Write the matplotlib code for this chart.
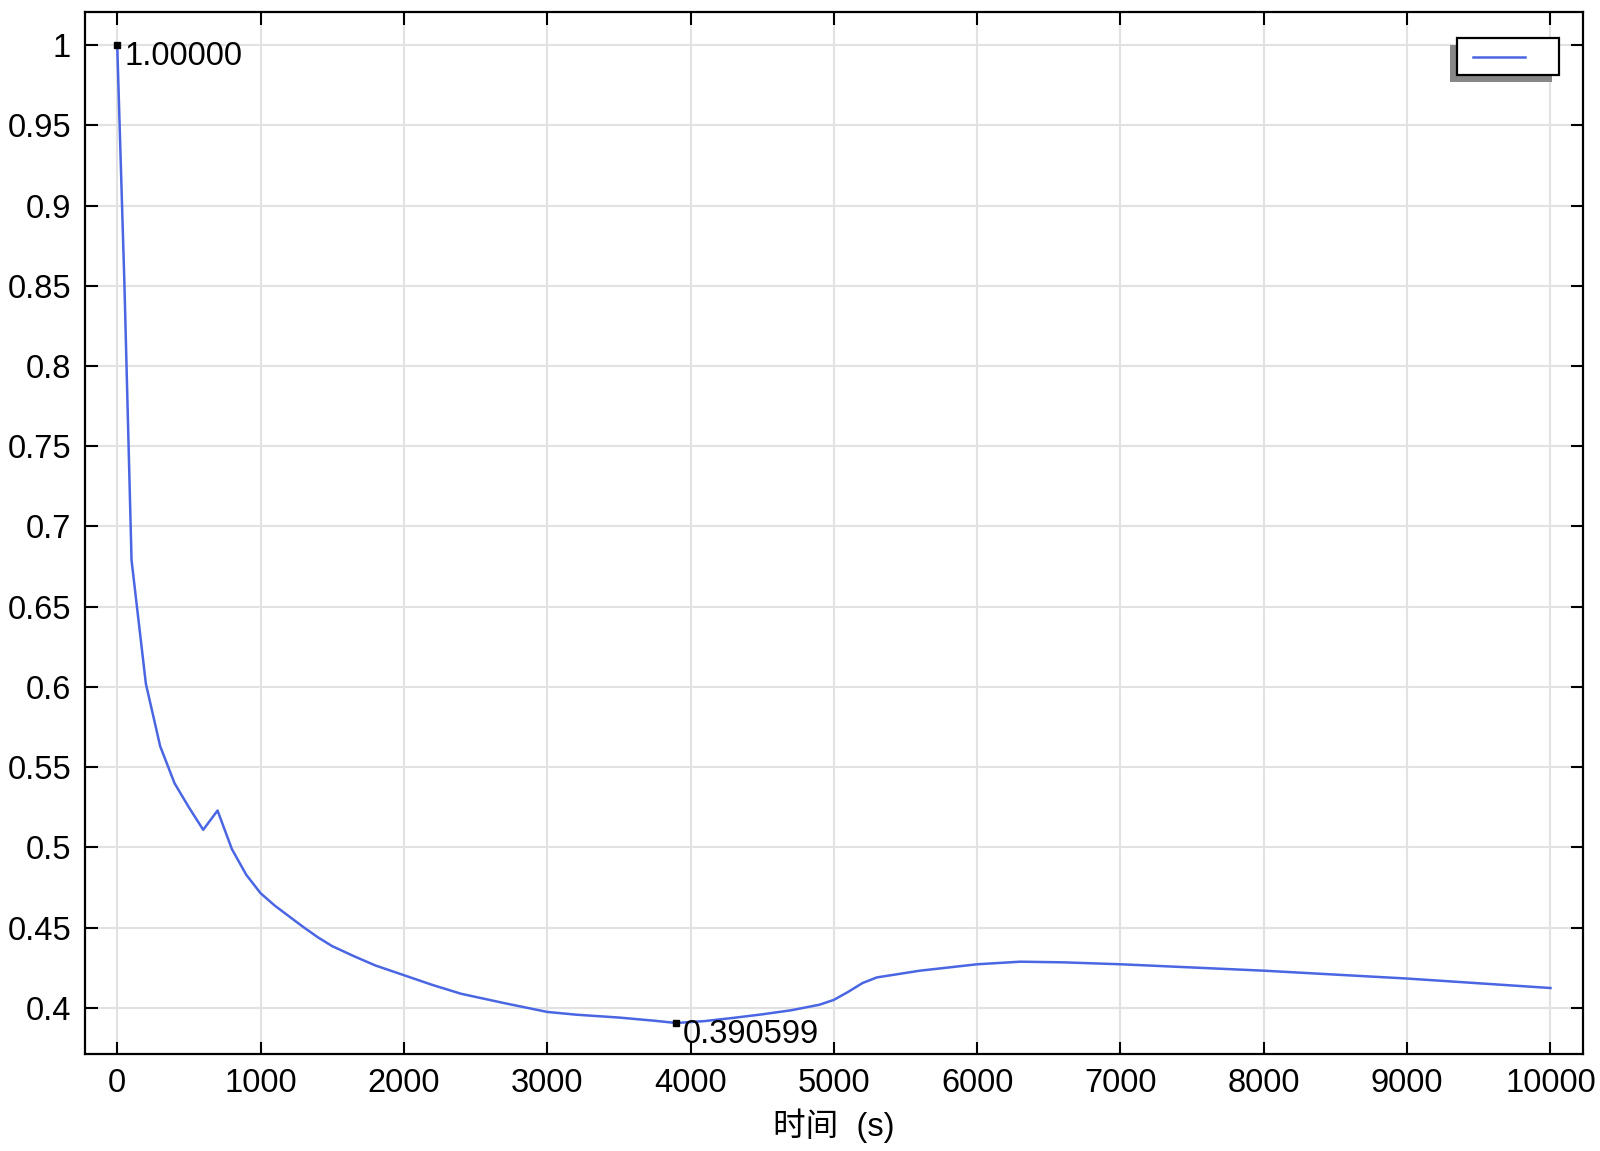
import matplotlib
matplotlib.use('Agg')
import matplotlib.pyplot as plt
from matplotlib.patches import Rectangle
from matplotlib.lines import Line2D
from matplotlib.ticker import MultipleLocator, FuncFormatter

plt.rcParams['font.family'] = ['Liberation Sans', 'Noto Sans CJK SC', 'DejaVu Sans']

# data
time_s = [0, 50, 100, 200, 300, 400, 500, 600, 700, 800, 900, 1000,
          1100, 1200, 1300, 1400, 1500, 1650, 1800, 2000, 2200, 2400, 2700,
          3000, 3200, 3500, 3750, 3900, 4100, 4300, 4500, 4700, 4900, 5000,
          5100, 5200, 5300, 5600, 6000, 6300, 6600, 7000, 8000, 9000, 10000]
values = [1.0, 0.852, 0.679, 0.602, 0.563, 0.540, 0.525, 0.511, 0.523, 0.499, 0.483, 0.4715,
          0.4637, 0.4570, 0.4503, 0.4440, 0.4385, 0.4323, 0.4265, 0.4204, 0.4143, 0.4088, 0.4030,
          0.3975, 0.3958, 0.3940, 0.3920, 0.390599, 0.3918, 0.3938, 0.3960, 0.3985, 0.4020, 0.4050,
          0.4100, 0.4155, 0.4190, 0.4232, 0.4272, 0.4288, 0.4284, 0.4272, 0.4232, 0.4183, 0.4124]

# marked points and their labels
mark_t = [0, 3900]
mark_v = [1.0, 0.390599]
mark_text = ['1.00000', '0.390599']

xlabel = '时间  (s)'
line_color = '#4a66e2'
fs = 23.5

fig = plt.figure(figsize=(16, 11.51), dpi=100)
ax = fig.add_axes([0.0531, 0.0843, 0.9361, 0.905])

ax.plot(time_s, values, color=line_color, lw=1.8, zorder=3)
ax.plot(mark_t, mark_v, 's', color='black', ms=5, zorder=4)
for t, v, s in zip(mark_t, mark_v, mark_text):
    ax.annotate(s, (t, v), xytext=(5, 3), textcoords='offset points',
                ha='left', va='top', fontsize=fs, zorder=5)

ax.set_xlim(-225, 10225)
ax.set_ylim(0.3713, 1.0204)
ax.xaxis.set_major_locator(MultipleLocator(1000))
ax.yaxis.set_major_locator(MultipleLocator(0.05))
ax.yaxis.set_major_formatter(FuncFormatter(lambda v, p: '%g' % round(v, 4)))

ax.grid(True, color='#e2e2e2', lw=1.5, zorder=0)
ax.set_axisbelow(True)
ax.tick_params(direction='in', length=9, width=1.5, top=True, right=True,
               labelsize=fs, pad=10, color='black')
for sp in ax.spines.values():
    sp.set_linewidth(1.6)

ax.set_xlabel(xlabel, fontsize=fs, labelpad=7)

# legend box with a shadow offset down-left, as in the reference
x0, x1, y0, y1 = 0.9159, 0.984, 0.9398, 0.9751
ax.add_patch(Rectangle((x0 - 0.0047, y0 - 0.0067), x1 - x0, y1 - y0,
                       transform=ax.transAxes, facecolor='#878787', edgecolor='none',
                       zorder=6, clip_on=False))
ax.add_patch(Rectangle((x0, y0), x1 - x0, y1 - y0, transform=ax.transAxes,
                       facecolor='white', edgecolor='black', lw=1.6, zorder=7,
                       clip_on=False))
ax.add_line(Line2D([0.9266, 0.9615], [0.9571, 0.9571], transform=ax.transAxes,
                   color=line_color, lw=1.8, zorder=8))

fig.savefig('out.png', dpi=100)
